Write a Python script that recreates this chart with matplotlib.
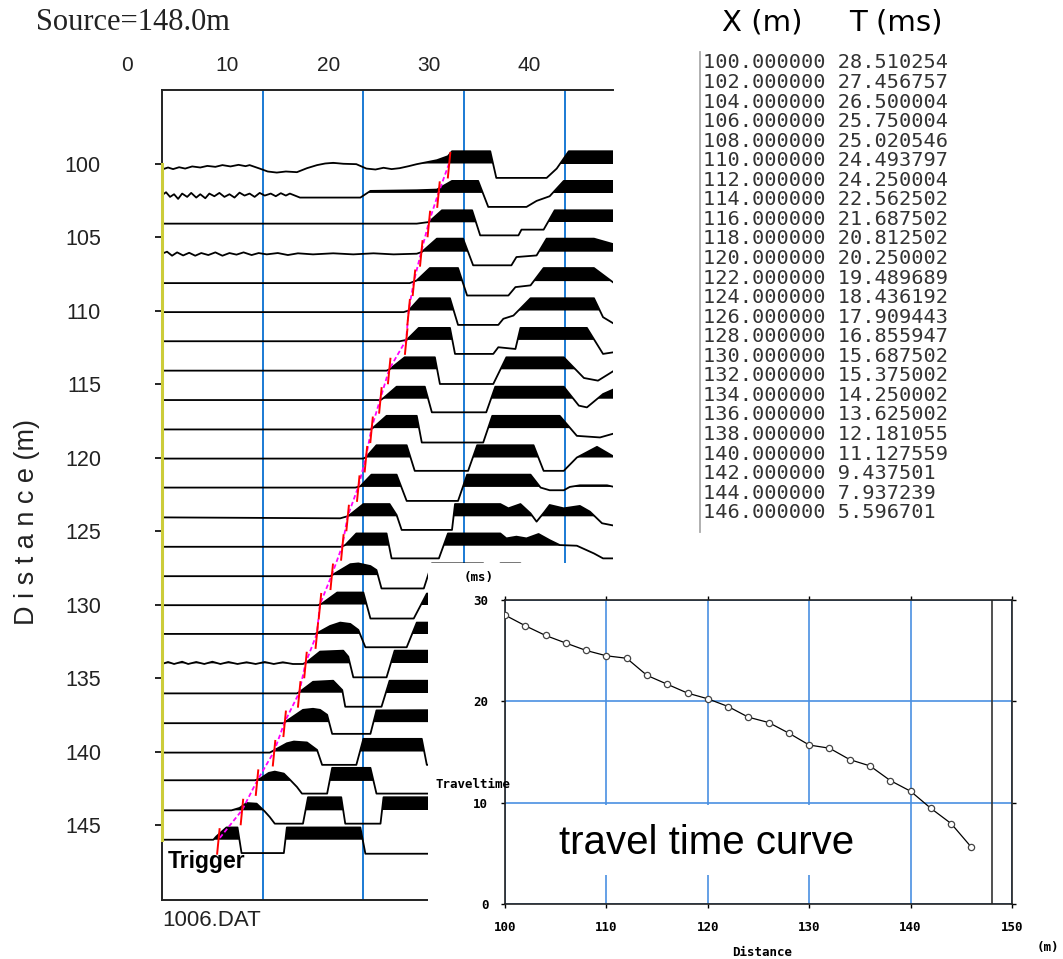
import numpy as np
import matplotlib
matplotlib.use('Agg')
import matplotlib.pyplot as plt
import matplotlib.transforms as mtransforms
from matplotlib import font_manager as fm
from matplotlib.patches import Rectangle

# ---------------- data ----------------
offsets_m = [100, 102, 104, 106, 108, 110, 112, 114, 116, 118, 120, 122,
             124, 126, 128, 130, 132, 134, 136, 138, 140, 142, 144, 146]
pick_ms = [28.510254, 27.456757, 26.500004, 25.750004, 25.020546, 24.493797,
           24.250004, 22.562502, 21.687502, 20.812502, 20.250002, 19.489689,
           18.436192, 17.909443, 16.855947, 15.687502, 15.375002, 14.250002,
           13.625002, 12.181055, 11.127559, 9.437501, 7.937239, 5.596701]
source_m = 148.0
time_ticks = [0, 10, 20, 30, 40]
dist_ticks = [100, 105, 110, 115, 120, 125, 130, 135, 140, 145]
tt_xticks = [100, 110, 120, 130, 140, 150]
tt_yticks = [0, 10, 20, 30]

# wiggle traces: (time ms, amplitude, 1 = clip)
trace_100 = [(0.0, -0.45), (0.6, -0.3), (1.1, -0.42), (1.7, -0.28), (2.3, -0.38), (3.0, -0.22),
             (3.8, -0.3), (4.5, -0.18), (5.3, -0.25), (6.0, -0.12), (6.8, -0.22), (7.6, -0.1),
             (8.3, -0.2), (8.7, -0.12), (9.7, -0.38), (10.5, -0.6), (11.4, -0.68), (12.3, -0.6),
             (13.4, -0.65), (14.4, -0.35), (15.4, -0.12), (16.2, 0.0), (17.0, 0.05), (18.0, -0.02),
             (19.3, -0.05), (20.3, -0.38), (21.2, -0.45), (22.0, -0.32), (22.8, -0.42), (23.6, -0.35),
             (24.5, -0.2), (25.3, -0.05), (26.3, 0.1), (27.3, 0.25), (28.4, 0.55), (28.8, 0.92),
             (32.6, 0.92), (33.2, -1.08), (38.2, -1.08), (39.2, -0.38), (40.4, 0.92), (44.9, 0.92)]
trace_102 = [(0.0, -0.18), (0.4, 0.05), (0.8, -0.3), (1.2, -0.1), (1.6, -0.45), (2.0, -0.05),
             (2.5, -0.3), (2.9, 0.0), (3.4, -0.35), (3.8, -0.1), (4.3, -0.4), (4.7, -0.05),
             (5.2, -0.25), (5.7, 0.0), (6.2, -0.3), (6.7, -0.1), (7.2, -0.35), (7.7, 0.02),
             (8.2, -0.2), (8.7, -0.05), (9.2, -0.3), (9.7, 0.0), (10.2, -0.2), (10.8, -0.05),
             (11.3, -0.25), (11.8, -0.02), (12.3, -0.2), (12.7, -0.05), (13.7, -0.35), (19.7, -0.35),
             (20.7, 0.15), (25.3, 0.2), (27.3, 0.25), (28.8, 0.9), (31.4, 0.9), (32.4, -1.05),
             (36.2, -1.05), (37.2, -0.6), (38.5, -0.25), (39.9, 0.9), (44.9, 0.9)]
trace_104 = [(0.0, -0.1), (25.3, -0.1), (26.5, 0.02), (27.8, 0.9), (30.8, 0.9), (31.6, -0.98),
             (35.4, -0.98), (35.7, -0.55), (37.9, -0.55), (39.0, 0.9), (44.9, 0.9)]
trace_106 = [(0.0, -0.15), (0.5, 0.0), (1.0, -0.3), (1.5, -0.05), (2.1, -0.28), (2.7, -0.08),
             (3.3, -0.3), (3.9, -0.1), (4.6, -0.25), (5.3, -0.05), (6.0, -0.3), (6.7, -0.1),
             (7.4, -0.22), (8.1, -0.05), (8.9, -0.25), (9.6, -0.1), (10.4, -0.2), (11.5, -0.1),
             (12.5, -0.25), (13.5, -0.12), (15.0, -0.2), (17.0, -0.12), (19.0, -0.2), (21.0, -0.12),
             (23.0, -0.2), (25.3, -0.15), (25.8, -0.02), (27.3, 0.98), (29.9, 0.98), (30.9, -1.02),
             (34.7, -1.02), (35.2, -0.4), (37.2, -0.28), (38.2, 0.98), (42.9, 0.98), (44.9, 0.55)]
trace_108 = [(0.0, -0.15), (24.6, -0.15), (25.3, 0.05), (26.6, 0.98), (29.4, 0.98), (30.3, -1.08),
             (34.4, -1.08), (35.1, -0.45), (36.6, -0.32), (37.9, 0.98), (42.9, 0.98), (44.9, -0.15)]
trace_110 = [(0.0, -0.12), (24.0, -0.12), (24.5, 0.0), (25.6, 0.92), (28.6, 0.92), (29.4, -1.08),
             (33.4, -1.08), (33.9, -0.62), (34.9, -0.38), (36.6, 0.92), (42.9, 0.92), (43.8, -0.5),
             (44.9, -1.0)]
trace_112 = [(0.0, -0.1), (23.6, -0.1), (24.3, 0.0), (25.5, 0.9), (28.6, 0.9), (29.1, -1.05),
             (32.9, -1.05), (33.4, -0.55), (35.1, -0.68), (35.6, 0.9), (42.2, 0.9), (43.8, -1.05),
             (44.9, -0.92)]
trace_114 = [(0.0, -0.1), (22.3, -0.1), (22.6, 0.0), (24.1, 0.9), (27.1, 0.9), (27.6, -1.1),
             (32.9, -1.1), (34.2, 0.9), (39.9, 0.9), (41.9, -0.65), (43.3, -0.85), (44.9, -0.1)]
trace_116 = [(0.0, -0.1), (21.7, -0.1), (22.0, 0.05), (23.3, 0.9), (26.1, 0.9), (26.8, -1.02),
             (32.2, -1.02), (33.1, 0.9), (39.9, 0.9), (41.4, -0.52), (42.2, -0.65), (43.8, 0.35),
             (44.9, 0.72)]
trace_118 = [(0.0, -0.1), (20.7, -0.1), (21.0, 0.05), (22.3, 0.92), (25.3, 0.92), (25.8, -1.08),
             (31.9, -1.08), (32.8, 0.92), (39.5, 0.92), (41.2, -0.58), (43.5, -0.7), (44.9, -0.4)]
trace_120 = [(0.0, -0.08), (20.0, -0.08), (20.3, 0.05), (21.3, 0.92), (24.3, 0.92), (25.1, -1.0),
             (30.4, -1.0), (31.3, 0.92), (36.9, 0.92), (37.9, -1.0), (39.9, -1.0), (41.2, 0.0),
             (43.2, 0.8), (44.9, 0.05)]
trace_122 = [(0.0, -0.05), (19.2, -0.05), (19.7, 0.05), (20.8, 0.92), (23.3, 0.92), (24.3, -1.05),
             (29.4, -1.05), (30.3, 0.92), (36.6, 0.92), (37.6, -0.05), (38.5, -0.25), (39.9, -0.25),
             (40.5, 0.0), (41.5, 0.12), (44.2, 0.12), (44.9, 0.0)]
trace_124 = [(0.0, -0.08), (17.7, -0.15), (18.5, 0.02), (20.0, 0.92), (22.6, 0.92), (23.3, 0.1),
             (23.8, -1.02), (28.8, -1.02), (29.1, 0.92), (33.6, 0.92), (34.4, 0.6), (35.6, 0.92),
             (36.6, 0.22), (37.2, -0.4), (38.0, 0.35), (38.5, 0.85), (39.9, 0.6), (41.5, 0.78),
             (42.5, 0.35), (43.7, -0.52), (44.9, -0.7)]
trace_126 = [(0.0, -0.08), (17.8, -0.08), (18.2, 0.05), (19.3, 0.92), (22.3, 0.92), (22.8, -0.95),
             (27.5, -0.95), (28.4, 0.92), (33.6, 0.92), (34.2, 0.55), (35.2, 0.68), (36.2, 0.55),
             (37.4, 0.88), (38.5, 0.42), (39.5, 0.05), (41.2, 0.0), (42.9, -0.58), (43.8, -0.95),
             (44.9, -0.95)]
trace_128 = [(0.0, -0.08), (16.7, -0.08), (17.0, 0.05), (18.7, 0.82), (19.5, 0.88), (20.7, 0.68),
             (21.3, 0.38), (21.8, -1.0), (26.0, -1.0), (26.8, 0.88), (31.9, 0.88), (32.6, -0.12),
             (33.6, 0.88), (35.6, 0.88), (36.9, -0.12), (44.9, -0.12)]
trace_130 = [(0.0, -0.05), (15.5, -0.05), (15.9, 0.08), (17.4, 0.9), (20.0, 0.9), (20.7, -1.05),
             (25.0, -1.05), (26.3, 0.82), (44.9, 0.82)]
trace_132 = [(0.0, 0.0), (15.2, 0.0), (15.5, 0.1), (16.7, 0.6), (17.7, 0.85), (18.7, 0.75),
             (19.5, 0.3), (20.2, -1.0), (24.3, -1.0), (25.3, 0.85), (44.9, 0.85)]
trace_134 = [(0.0, -0.05), (0.6, 0.1), (1.2, -0.05), (2.0, 0.12), (2.6, -0.05), (3.4, 0.1),
             (4.2, -0.05), (5.0, 0.12), (5.8, -0.05), (6.6, 0.1), (7.5, -0.05), (8.4, 0.08),
             (9.3, -0.05), (10.2, 0.1), (11.1, -0.05), (12.0, 0.08), (13.0, -0.05), (14.0, -0.05),
             (14.4, 0.1), (15.7, 0.88), (18.0, 0.95), (18.5, 0.5), (19.0, -1.05), (22.3, -1.05),
             (23.1, 0.95), (44.9, 0.95)]
trace_136 = [(0.0, -0.05), (13.4, -0.05), (13.7, 0.08), (15.0, 0.82), (17.0, 0.9), (17.9, 0.2),
             (18.2, -1.05), (21.8, -1.05), (22.6, 0.9), (44.9, 0.9)]
trace_138 = [(0.0, -0.08), (12.1, -0.08), (12.4, 0.1), (14.0, 0.92), (15.0, 1.0), (15.7, 0.92),
             (16.4, 0.55), (16.9, -0.88), (20.7, -0.88), (21.3, 0.88), (44.9, 0.95)]
trace_140 = [(0.0, -0.08), (10.7, -0.08), (11.1, 0.08), (12.4, 0.62), (13.1, 0.75), (14.4, 0.68),
             (15.4, 0.12), (15.9, -1.0), (19.3, -1.0), (20.0, 0.95), (25.8, 0.95), (26.3, -1.0),
             (44.9, -1.0)]
trace_142 = [(0.0, 0.05), (9.2, 0.05), (9.7, 0.15), (10.6, 0.6), (11.2, 0.7), (12.1, 0.55),
             (12.7, 0.1), (13.4, -0.45), (13.9, -0.95), (16.4, -0.95), (16.9, 0.98), (20.7, 0.98),
             (21.3, -0.95), (44.9, -0.95)]
trace_144 = [(0.0, 0.0), (6.9, 0.0), (7.7, 0.18), (8.4, 0.55), (9.4, 0.5), (10.2, -0.08),
             (10.7, -0.5), (11.2, -1.0), (14.0, -1.0), (14.5, 0.98), (17.8, 0.98), (18.2, -1.0),
             (21.7, -1.0), (22.0, 0.98), (44.9, 0.98)]
trace_146 = [(0.0, 0.0), (5.1, 0.0), (5.4, 0.25), (6.4, 0.92), (7.5, 0.92), (7.9, -1.0),
             (12.1, -1.0), (12.4, 0.92), (19.7, 0.92), (20.2, -1.05), (44.9, -1.05)]

traces = [trace_100, trace_102, trace_104, trace_106, trace_108, trace_110, trace_112, trace_114,
          trace_116, trace_118, trace_120, trace_122, trace_124, trace_126, trace_128, trace_130,
          trace_132, trace_134, trace_136, trace_138, trace_140, trace_142, trace_144, trace_146]


def first_font(*names):
    for n in names:
        try:
            fm.findfont(fm.FontProperties(family=n), fallback_to_default=False)
            return n
        except ValueError:
            continue
    return 'DejaVu Sans'


SANS = first_font('Liberation Sans', 'DejaVu Sans')
SERIF = first_font('Liberation Serif', 'DejaVu Serif')
MONO = 'DejaVu Sans Mono'

W, H = 1063, 959
fig = plt.figure(figsize=(W / 100, H / 100), dpi=100)
fig.patch.set_facecolor('white')


def fx(x):
    return x / W


def fy(y):
    return 1 - y / H


# ---------------- seismogram panel ----------------
ax = fig.add_axes([fx(162), fy(900), (613 - 162) / W, (900 - 90) / H])
ax.set_xlim(0, 44.79)
ax.set_ylim(150.1, 95.0)
AMP = 0.907   # clip amplitude in metres of trace spacing

for t in time_ticks[1:]:
    ax.axvline(t, color='#1a7ad4', lw=1.4, zorder=1)

for d, knots in zip(offsets_m, traces):
    t = np.array([k[0] for k in knots])
    a = np.array([k[1] for k in knots]) * AMP
    y = d - a
    ax.fill_between(t, d, y, where=(a > 0), interpolate=True, color='black', lw=0, zorder=2)
    ax.plot(t, y, color='black', lw=1.3, zorder=2.5)

ax.plot(pick_ms, offsets_m, color='#ff00ff', lw=1.3, ls=(0, (2.5, 1.5)), zorder=3)
for d, tp in zip(offsets_m, pick_ms):
    ax.plot([tp - 0.12, tp + 0.12], [d + 0.95, d - 0.72], color='red', lw=1.4, zorder=4)

ax.plot([0, 0], [offsets_m[0], offsets_m[-1]], color='#cccc3a', lw=2.2, clip_on=False, zorder=6)

for s in ['top', 'left', 'bottom']:
    ax.spines[s].set_linewidth(1.4)
    ax.spines[s].set_color('#222222')
ax.spines['right'].set_visible(False)
ax.set_xticks([])
ax.set_yticks(dist_ticks)
ax.tick_params(axis='y', length=5, width=1.2, pad=39, labelsize=15.5, labelcolor='#222222')
for lab in ax.get_yticklabels():
    lab.set_family(SANS)

trans = mtransforms.blended_transform_factory(ax.transData, ax.transAxes)
for v in time_ticks:
    ax.text(v - 3.5, (900 - 65) / 810, str(v), transform=trans, ha='center', va='center',
            fontsize=15, family=SANS, color='#222222', clip_on=False)

ax.text(0.6, 146 + 1.45, 'Trigger', fontsize=16.5, fontweight='bold', family=SANS,
        ha='left', va='center', zorder=7)

fig.text(fx(36), fy(22), 'Source=148.0m', fontsize=22, family=SERIF, ha='left', va='center',
         color='#222222')
fig.text(fx(162), fy(920), '1006.DAT', fontsize=16, family=SANS, ha='left', va='center',
         color='#222222')
fig.text(fx(27), fy(522), 'D i s t a n c e (m)', fontsize=19.5, family=SANS, rotation=90,
         ha='center', va='center', color='#222222')

# ---------------- pick table ----------------
fig.text(fx(722), fy(22), 'X (m)', fontsize=21, ha='left', va='center')
fig.text(fx(849), fy(22), 'T (ms)', fontsize=21, ha='left', va='center')
fig.add_artist(plt.Line2D([fx(700), fx(700)], [fy(52), fy(532)], color='#aaaaaa', lw=1.3))
for i, (xm, tm) in enumerate(zip(offsets_m, pick_ms)):
    fig.text(fx(703), fy(63 + i * 19.55), f'{xm:.6f} {tm:.6f}', fontsize=14.6, family=MONO,
             ha='left', va='center', color='#333333')

# ---------------- travel time curve inset ----------------
fig.add_artist(Rectangle((fx(428), 0), 1 - fx(428), fy(563), transform=fig.transFigure,
                         facecolor='white', edgecolor='none', zorder=1))

ax2 = fig.add_axes([fx(505), fy(904), (1012 - 505) / W, (904 - 600) / H])
ax2.set_zorder(2)
ax2.set_xlim(100, 150)
ax2.set_ylim(0, 30)
ax2.set_xticks(tt_xticks)
ax2.set_yticks(tt_yticks)
ax2.set_axisbelow(True)
ax2.grid(True, color='#4a90e2', lw=1.2)
ax2.tick_params(direction='out', length=3, width=1, top=True, right=True, pad=9,
                labelsize=9)
for lab in ax2.get_xticklabels() + ax2.get_yticklabels():
    lab.set_family(MONO)
    lab.set_fontweight('bold')
for s in ax2.spines.values():
    s.set_linewidth(1.2)
    s.set_color('#222222')
ax2.add_patch(Rectangle((104.5, 2.85), 30.5, 6.9, facecolor='white', edgecolor='none', zorder=1.5))
ax2.axvline(source_m, color='#333333', lw=1.2, zorder=2)
ax2.plot(offsets_m, pick_ms, color='black', lw=0.9, marker='o', ms=4.5, mfc='white',
         mec='#444444', mew=0.9, zorder=3)

fig.text(fx(707), fy(843), 'travel time curve', fontsize=29, family=SANS, ha='center',
         va='center', zorder=5)
fig.text(fx(479), fy(578), '(ms)', fontsize=9, family=MONO, fontweight='bold', ha='center',
         va='center', zorder=5)
fig.text(fx(473), fy(784), 'Traveltime', fontsize=9, family=MONO, fontweight='bold',
         ha='center', va='center', zorder=5)
fig.text(fx(762), fy(953), 'Distance', fontsize=9, family=MONO, fontweight='bold',
         ha='center', va='center', zorder=5)
fig.text(fx(1048), fy(947), '(m)', fontsize=9, family=MONO, fontweight='bold',
         ha='center', va='center', zorder=5)

fig.savefig('out.png', dpi=100, facecolor='white')
